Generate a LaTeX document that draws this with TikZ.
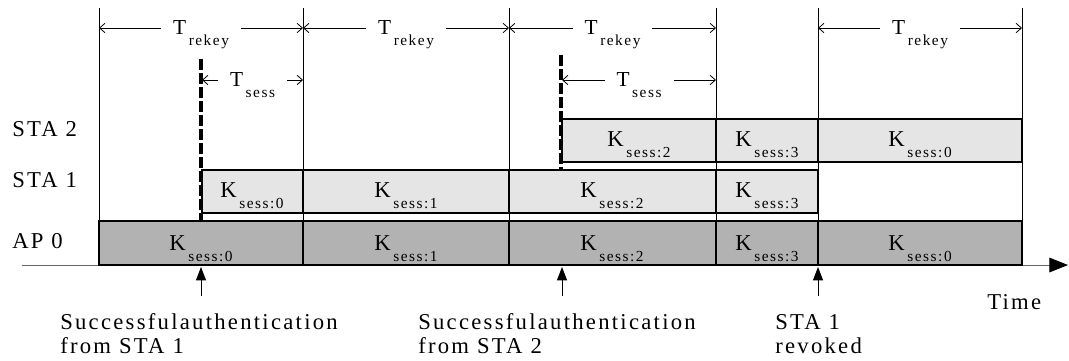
\documentclass[tikz,border=0pt]{standalone}
\usepackage{fontspec}
\setmainfont{Liberation Serif}[LetterSpace=10]
\usetikzlibrary{arrows.meta}
\newcommand\lowtxt[1]{\hspace{2pt}\raisebox{-8pt}[0pt][0pt]{\fontsize{11.5}{11.5}\selectfont #1}}

\begin{document}
\begin{tikzpicture}[x=0.75pt,y=-0.75pt,
  ap/.style={draw=black,line width=0.9pt,fill=black!30},
  sta/.style={draw=black,line width=0.9pt,fill=black!10},
  key/.style={font=\fontsize{17}{17}\selectfont,inner sep=0pt},
  bound/.style={draw=black,line width=0.7pt},
  dim/.style={draw=black,line width=0.6pt,{Straight Barb[length=4pt,width=7pt]}-{Straight Barb[length=4pt,width=7pt]}},
  span/.style={fill=white,inner xsep=9pt,inner ysep=0pt,font=\fontsize{16}{16}\selectfont},
  auth/.style={line width=2.6pt,dash pattern=on 8pt off 2.5pt},
  evt/.style={line width=0.7pt,-{Triangle[length=10pt,width=7.5pt]}},
  row/.style={anchor=base west,inner sep=0pt,font=\fontsize{17}{17}\selectfont},
  desc/.style={anchor=base west,align=left,inner sep=0pt,font=\fontsize{17}{17.5}\selectfont}
]
\useasboundingbox (0,0) rectangle (1069,360);

% time axis
\coordinate (t0) at (22,265);
\coordinate (t1) at (1068,265);
\draw[black!60,line width=0.7pt,-{Triangle[length=14pt,width=11pt,color=black]}] (t0) -- (t1);

% rekey boundaries
\coordinate (b0) at (99,8);    \coordinate (f0) at (99,265);
\coordinate (b1) at (303,8);   \coordinate (f1) at (303,265);
\coordinate (b2) at (509,8);   \coordinate (f2) at (509,265);
\coordinate (b3) at (716,8);   \coordinate (f3) at (716,265);
\coordinate (b4) at (818,8);   \coordinate (f4) at (818,265);
\coordinate (b5) at (1022,8);  \coordinate (f5) at (1022,265);
\draw[bound] (b0) -- (f0) (b1) -- (f1) (b2) -- (f2) (b3) -- (f3) (b4) -- (f4) (b5) -- (f5);

% AP 0
\draw[ap] (99,221) rectangle (303,265);
\draw[ap] (303,221) rectangle (509,265);
\draw[ap] (509,221) rectangle (716,265);
\draw[ap] (716,221) rectangle (818,265);
\draw[ap] (818,221) rectangle (1022,265);
\node[key] (ap0) at (201,243) {K\lowtxt{sess:0}};
\node[key] (ap1) at (406,243) {K\lowtxt{sess:1}};
\node[key] (ap2) at (612,243) {K\lowtxt{sess:2}};
\node[key] (ap3) at (767,243) {K\lowtxt{sess:3}};
\node[key] (ap4) at (920,243) {K\lowtxt{sess:0}};

% STA 1
\draw[sta] (202,170) rectangle (303,213);
\draw[sta] (303,170) rectangle (509,213);
\draw[sta] (509,170) rectangle (716,213);
\draw[sta] (716,170) rectangle (818,213);
\node[key] (sa0) at (252,190) {K\lowtxt{sess:0}};
\node[key] (sa1) at (406,190) {K\lowtxt{sess:1}};
\node[key] (sa2) at (612,190) {K\lowtxt{sess:2}};
\node[key] (sa3) at (767,190) {K\lowtxt{sess:3}};

% STA 2
\draw[sta] (562,119) rectangle (716,162);
\draw[sta] (716,119) rectangle (818,162);
\draw[sta] (818,119) rectangle (1022,162);
\node[key] (sb2) at (639,139) {K\lowtxt{sess:2}};
\node[key] (sb3) at (767,139) {K\lowtxt{sess:3}};
\node[key] (sb0) at (920,139) {K\lowtxt{sess:0}};

% authentication instants
\coordinate (u1) at (201,59);   \coordinate (v1) at (201,222);
\coordinate (u2) at (561,55);   \coordinate (v2) at (561,171);
\draw[auth] (u1) -- (v1);
\draw[auth] (u2) -- (v2);

% periods
\coordinate (r0) at (99,28);   \coordinate (r1) at (303,28);
\coordinate (r2) at (509,28);  \coordinate (r3) at (716,28);
\coordinate (r4) at (818,28);  \coordinate (r5) at (1022,28);
\draw[dim] (r0) -- node[span] (tr1) {T\lowtxt{rekey}} (r1);
\draw[dim] (r1) -- node[span] (tr2) {T\lowtxt{rekey}} (r2);
\draw[dim] (r2) -- node[span] (tr3) {T\lowtxt{rekey}} (r3);
\draw[dim] (r4) -- node[span] (tr4) {T\lowtxt{rekey}} (r5);
\coordinate (s0) at (202,80);  \coordinate (s1) at (303,80);
\coordinate (s2) at (562,80);  \coordinate (s3) at (716,80);
\draw[dim] (s0) -- node[span] (ts1) {T\lowtxt{sess}} (s1);
\draw[dim] (s2) -- node[span] (ts2) {T\lowtxt{sess}} (s3);

% events
\coordinate (e1) at (201,296);  \coordinate (h1) at (201,267);
\coordinate (e2) at (562,296);  \coordinate (h2) at (562,267);
\coordinate (e3) at (818,296);  \coordinate (h3) at (818,267);
\draw[evt] (e1) -- (h1);
\draw[evt] (e2) -- (h2);
\draw[evt] (e3) -- (h3);

\node[row] (sta2) at (12,136) {STA 2};
\node[row] (sta1) at (12,187) {STA 1};
\node[row] (ap) at (12,248) {AP 0};

\node[desc] (ev1) at (60,353) {Successfulauthentication\\from STA 1};
\node[desc] (ev2) at (418,353) {Successfulauthentication\\from STA 2};
\node[desc] (ev3) at (775,353) {STA 1\\revoked};
\node[desc] (time) at (987,309) {Time};
\end{tikzpicture}
\end{document}
